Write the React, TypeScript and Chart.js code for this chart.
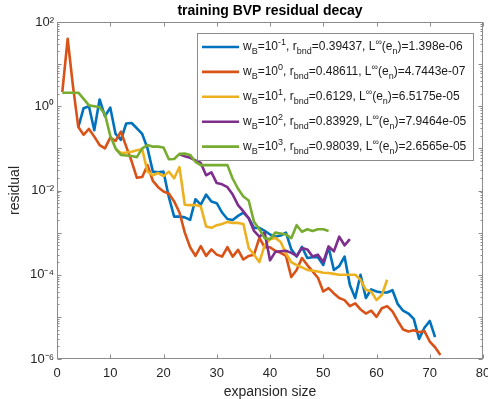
import React, { useEffect, useRef } from 'react';
import { Chart, registerables } from 'chart.js';

Chart.register(...registerables);

const FONT = "'Liberation Sans', Arial, Helvetica, sans-serif";
const AXIS_COLOR = '#262626';
const FRAME_COLOR = '#8c8c8c';

const xTickValues = [0, 10, 20, 30, 40, 50, 60, 70, 80];
const yTickValues = [1e-6, 1e-4, 1e-2, 1e0, 1e2];
const yTickLabels = ['10⁻⁶', '10⁻⁴', '10⁻²', '10⁰', '10²'];

// residual history per boundary weight, indexed from the first plotted expansion size
const blueStart = 4;
const blueResidual = [
  0.32, 0.9, 1.0, 0.27, 1.45, 0.58, 0.93, 0.22, 0.16, 0.39,
  0.4, 0.3, 0.22, 0.1, 0.028, 0.027, 0.028, 0.007, 0.0024, 0.0024,
  0.0023, 0.002, 0.0062, 0.0046, 0.008, 0.0055, 0.005, 0.003, 0.0021, 0.002,
  0.0025, 0.003, 0.0022, 0.0013, 0.0013, 0.0011, 0.0009, 0.0008, 0.00085, 0.001,
  0.0004, 0.00027, 0.00046, 0.00025, 0.00026, 0.00026, 0.00017, 0.00045, 0.00013, 0.00016,
  0.00027, 0.000057, 0.000028, 0.0001, 0.000028, 0.000045, 0.00004, 0.000038, 0.000038, 0.000043,
  0.00002, 0.000014, 0.000012, 0.000009, 0.000003, 0.0000055, 0.000008, 0.0000033,
];

const orangeStart = 1;
const orangeResidual = [
  2.2, 40, 3.0, 0.32, 0.21, 0.29, 0.19, 0.12, 0.1, 0.18,
  0.15, 0.25, 0.11, 0.05, 0.02, 0.021, 0.04, 0.017, 0.012, 0.0095,
  0.0085, 0.0055, 0.003, 0.001, 0.00045, 0.00028, 0.00048, 0.00028, 0.0004, 0.0003,
  0.00027, 0.00045, 0.00027, 0.00039, 0.00023, 0.00028, 0.0003, 0.00075, 0.00045, 0.00045,
  0.00037, 0.00033, 0.00028, 0.000088, 0.00013, 0.00025, 0.00017, 0.00012, 0.000085, 0.00004,
  0.000048, 0.000036, 0.000028, 0.000025, 0.000018, 0.000021, 0.000015, 0.000012, 0.000014, 0.00001,
  0.000016, 0.000018, 0.0000135, 0.000008, 0.000005, 0.0000045, 0.0000048, 0.0000043, 0.0000046, 0.0000026,
  0.0000019, 0.00000125,
];

const yellowStart = 11;
const yellowResidual = [
  0.095, 0.078, 0.08, 0.083, 0.09, 0.095, 0.028, 0.023, 0.026, 0.022,
  0.028, 0.0195, 0.036, 0.0046, 0.0045, 0.0045, 0.0042, 0.0014, 0.0013, 0.0015,
  0.0016, 0.0018, 0.0017, 0.0017, 0.0016, 0.00043, 0.0003, 0.0002, 0.0005, 0.0007,
  0.00075, 0.0006, 0.00032, 0.0002, 0.00017, 0.00015, 0.00013, 0.000125, 0.00012, 0.000112,
  0.00011, 0.000105, 0.0001, 0.0001, 0.0001, 0.0001, 0.000076, 0.000044, 0.00004, 0.000025,
  0.000033, 0.000076,
];

const purpleStart = 23;
const purpleResidual = [
  0.072, 0.065, 0.06, 0.052, 0.045, 0.023, 0.027, 0.015, 0.014, 0.012,
  0.008, 0.0045, 0.0032, 0.0022, 0.0011, 0.0008, 0.001, 0.00022, 0.00035, 0.00036,
  0.00037, 0.00033, 0.00028, 0.00043, 0.0004, 0.00027, 0.0003, 0.0002, 0.00047, 0.00036,
  0.0008, 0.0005, 0.0007,
];

const greenStart = 1;
const greenResidual = [
  2.1, 2.1, 2.1, 2.1, 1.5, 1.05, 1.0, 0.95, 0.65, 0.2,
  0.1, 0.07, 0.068, 0.066, 0.062, 0.1, 0.12, 0.11, 0.11, 0.105,
  0.055, 0.056, 0.074, 0.075, 0.07, 0.048, 0.04, 0.04, 0.04, 0.04,
  0.04, 0.04, 0.019, 0.011, 0.0072, 0.0058, 0.0018, 0.0012, 0.00074, 0.0007,
  0.001, 0.00095, 0.0009, 0.00074, 0.0015, 0.00105, 0.0012, 0.0011, 0.0012, 0.0012,
  0.0011,
];

const seriesColors = ['#0072BD', '#D95319', '#EDB120', '#7E2F8E', '#77AC30'];
const weightExponents = ['-1', '0', '1', '2', '3'];
const boundaryRatios = ['0.39437', '0.48611', '0.6129', '0.83929', '0.98039'];
const maxErrors = ['1.398e-06', '4.7443e-07', '6.5175e-05', '7.9464e-05', '2.6565e-05'];

const seriesStarts = [blueStart, orangeStart, yellowStart, purpleStart, greenStart];
const seriesValues = [blueResidual, orangeResidual, yellowResidual, purpleResidual, greenResidual];

type Part = [string, 'n' | 'sub' | 'sup'];

function legendParts(i: number): Part[] {
  return [
    ['w', 'n'], ['B', 'sub'], ['=10', 'n'], [weightExponents[i], 'sup'],
    [', r', 'n'], ['bnd', 'sub'], ['=' + boundaryRatios[i] + ', L', 'n'], ['∞', 'sup'],
    ['(e', 'n'], ['n', 'sub'], [')=' + maxErrors[i], 'n'],
  ];
}

function drawRich(ctx: CanvasRenderingContext2D, parts: Part[], x: number, y: number) {
  let cx = x;
  for (const [text, mode] of parts) {
    ctx.font = mode === 'n' ? `12px ${FONT}` : `9px ${FONT}`;
    const dy = mode === 'sub' ? 4.5 : mode === 'sup' ? -4.5 : 0;
    ctx.fillText(text, cx, y + dy);
    cx += ctx.measureText(text).width;
  }
}

const framePlugin = {
  id: 'matlabFrame',
  afterDatasetsDraw(chart: any) {
    const { ctx, chartArea: a, scales } = chart;
    const xs = scales.x;
    const ys = scales.y;
    ctx.save();
    ctx.strokeStyle = FRAME_COLOR;
    ctx.lineWidth = 1;
    const L = Math.round(a.left) + 0.5;
    const R = Math.round(a.right) - 0.5;
    const T = Math.round(a.top) + 0.5;
    const B = Math.round(a.bottom) - 0.5;
    ctx.strokeRect(L, T, R - L, B - T);
    ctx.beginPath();
    for (const v of xTickValues) {
      const px = Math.round(xs.getPixelForValue(v)) + 0.5;
      ctx.moveTo(px, B);
      ctx.lineTo(px, B - 4);
      ctx.moveTo(px, T);
      ctx.lineTo(px, T + 4);
    }
    for (let e = -6; e <= 2; e++) {
      for (let m = 1; m <= 9; m++) {
        if (e === 2 && m > 1) break;
        const py = Math.round(ys.getPixelForValue(m * Math.pow(10, e))) + 0.5;
        const len = m === 1 ? 4 : 2;
        ctx.moveTo(L, py);
        ctx.lineTo(L + len, py);
        ctx.moveTo(R, py);
        ctx.lineTo(R - len, py);
      }
    }
    ctx.stroke();
    ctx.restore();
  },
  afterDraw(chart: any) {
    const { ctx, chartArea: a } = chart;
    const boxW = 276;
    const boxH = 127;
    const bx = Math.round(a.right - 10.5 - boxW) + 0.5;
    const by = Math.round(a.top + 11) + 0.5;
    ctx.save();
    ctx.fillStyle = '#ffffff';
    ctx.fillRect(bx, by, boxW, boxH);
    ctx.strokeStyle = FRAME_COLOR;
    ctx.lineWidth = 1;
    ctx.strokeRect(bx, by, boxW, boxH);
    ctx.textBaseline = 'middle';
    ctx.textAlign = 'left';
    for (let i = 0; i < seriesColors.length; i++) {
      const ry = by + 13.5 + i * 24.9;
      ctx.strokeStyle = seriesColors[i];
      ctx.lineWidth = 2.6;
      ctx.beginPath();
      ctx.moveTo(bx + 4.5, ry);
      ctx.lineTo(bx + 41.5, ry);
      ctx.stroke();
      ctx.fillStyle = '#1a1a1a';
      drawRich(ctx, legendParts(i), bx + 45.5, ry);
    }
    ctx.restore();
  },
};

export default function App() {
  const canvasRef = useRef<HTMLCanvasElement | null>(null);

  useEffect(() => {
    document.body.style.margin = '0';
    const canvas = canvasRef.current;
    if (!canvas) return;

    const datasets = seriesValues.map((vals, i) => ({
      label: 'w_B=10^' + weightExponents[i],
      data: vals.map((v, k) => ({ x: seriesStarts[i] + k, y: v })),
      borderColor: seriesColors[i],
      backgroundColor: seriesColors[i],
      borderWidth: 2.6,
      pointRadius: 0,
      tension: 0,
      fill: false,
      borderJoinStyle: 'round' as const,
      order: seriesValues.length - 1 - i,
    }));

    const chart = new Chart(canvas, {
      type: 'line',
      data: { datasets },
      plugins: [framePlugin],
      options: {
        animation: false,
        responsive: false,
        parsing: false,
        layout: { padding: { left: 0, right: 5, top: 0, bottom: 0 } },
        plugins: {
          legend: { display: false },
          tooltip: { enabled: false },
          title: {
            display: true,
            text: 'training BVP residual decay',
            fullSize: false,
            color: '#000000',
            font: { family: FONT, size: 14, weight: 'bold', lineHeight: 1.2 },
            padding: { top: 3, bottom: 2.2 },
          },
        },
        scales: {
          x: {
            type: 'linear',
            min: 0,
            max: 80,
            grid: { display: false, drawTicks: false },
            border: { display: false },
            afterBuildTicks: (s: any) => {
              s.ticks = xTickValues.map((v) => ({ value: v }));
            },
            afterFit: (s: any) => {
              s.height = 40;
              s.paddingLeft = 0;
              s.paddingRight = 0;
            },
            ticks: {
              color: AXIS_COLOR,
              font: { family: FONT, size: 13 },
              padding: 7,
              maxRotation: 0,
              autoSkip: false,
            },
            title: {
              display: true,
              text: 'expansion size',
              color: AXIS_COLOR,
              font: { family: FONT, size: 14, lineHeight: 1 },
              padding: { top: 0, bottom: 0 },
            },
          },
          y: {
            type: 'logarithmic',
            min: 1e-6,
            max: 1e2,
            grid: { display: false, drawTicks: false },
            border: { display: false },
            afterBuildTicks: (s: any) => {
              s.ticks = yTickValues.map((v) => ({ value: v }));
            },
            afterFit: (s: any) => {
              s.width = 57;
              s.paddingTop = 0;
              s.paddingBottom = 0;
            },
            ticks: {
              color: AXIS_COLOR,
              font: { family: FONT, size: 13 },
              padding: 3,
              autoSkip: false,
              callback: (_v: any, idx: number) => yTickLabels[idx],
            },
            title: {
              display: true,
              text: 'residual',
              color: AXIS_COLOR,
              font: { family: FONT, size: 14, lineHeight: 1 },
              padding: { top: 8, bottom: 0 },
            },
          },
        },
      },
    } as any);

    return () => chart.destroy();
  }, []);

  return (
    <div style={{ width: 488, height: 399 }}>
      <canvas ref={canvasRef} width={488} height={399} style={{ display: 'block' }} />
    </div>
  );
}
